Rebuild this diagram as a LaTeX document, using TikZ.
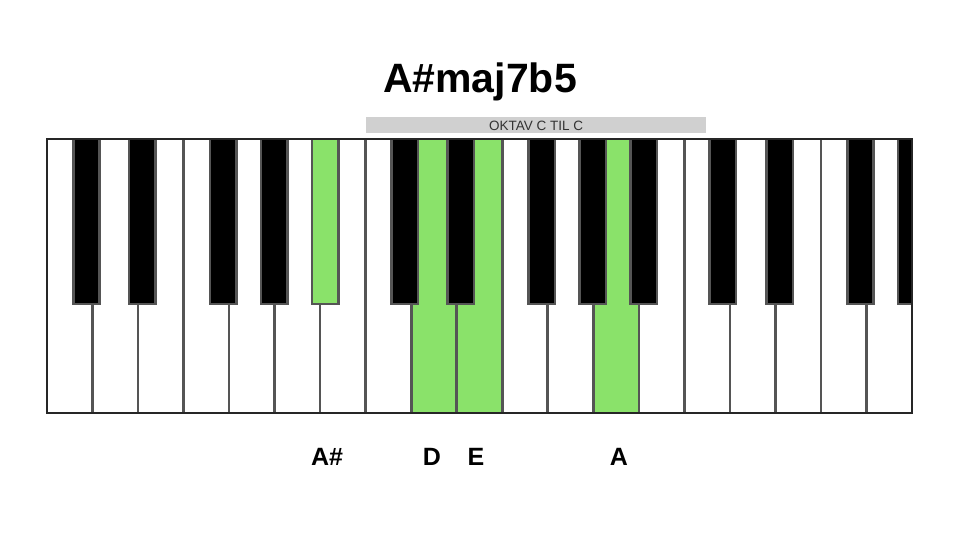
\documentclass[tikz,border=0pt]{standalone}
\usepackage{fontspec}
\setmainfont{Liberation Sans}
\definecolor{keygreen}{HTML}{8AE26A}
\definecolor{keyline}{HTML}{555555}
\definecolor{barfill}{HTML}{D0D0D0}
\begin{document}
\begin{tikzpicture}[x=1pt,y=-1pt,
  whitekey/.style={fill=white,draw=keyline,line width=2.6pt},
  blackkey/.style={fill=black,draw=keyline,line width=2.6pt},
  notelabel/.style={font=\bfseries\fontsize{25}{25}\selectfont,anchor=base},
]
\useasboundingbox (0,0) rectangle (960,540);
\fill[white] (0,0) rectangle (960,540);
\def\wl{47}\def\wr{912}\def\kt{139}\def\kb{413}\def\bb{304}
\pgfmathsetmacro{\ww}{(912-47)/19}
% white keys
\foreach \i in {0,...,18}{
  \pgfmathsetmacro{\xa}{\wl+\i*\ww}
  \pgfmathsetmacro{\xb}{\wl+(\i+1)*\ww}
  \draw[whitekey] (\xa,\kt) rectangle (\xb,\kb);
}
% green white keys: D (9th), E (10th), A (13th)
\foreach \i in {8,9,12}{
  \pgfmathsetmacro{\xa}{\wl+\i*\ww}
  \pgfmathsetmacro{\xb}{\wl+(\i+1)*\ww}
  \draw[whitekey,fill=keygreen] (\xa,\kt) rectangle (\xb,\kb);
}
% black keys: boundary index, offset, green flag
\begin{scope}
\clip (\wl,\kt-5) rectangle (\wr,\kb);
\foreach \b/\o/\g in {1/-6/0,2/4/0,4/-6/0,5/-0.5/0,6/5/1,
                      8/-6.5/0,9/4/0,11/-6/0,12/-0.5/0,13/5/0,
                      15/-7/0,16/4.5/0,18/-6/0,19/-1/0}{
  \pgfmathsetmacro{\xc}{\wl+\b*\ww+\o}
  \ifnum\g=1
    \draw[blackkey,fill=keygreen] (\xc-13.2,\kt) rectangle (\xc+13.2,\bb);
  \else
    \draw[blackkey] (\xc-13.2,\kt) rectangle (\xc+13.2,\bb);
  \fi
}
\end{scope}
% outer frame
\draw[draw=black!85,line width=2.2pt] (\wl,\kt) rectangle (\wr,\kb);
% octave bar
\fill[barfill] (366,117) rectangle (706,133);
\node[font=\fontsize{13.5}{13.5}\selectfont,text=black!80] (oktav) at (536,125.5) {OKTAV C TIL C};
% title
\node[font=\bfseries\fontsize{41}{41}\selectfont,anchor=base] (title) at (480,93) {A\#maj7b5};
% note labels
\node[notelabel] (lasharp) at (327,465) {A\#};
\node[notelabel] (ld) at (432,465) {D};
\node[notelabel] (le) at (476,465) {E};
\node[notelabel] (la) at (619,465) {A};
\end{tikzpicture}
\end{document}
